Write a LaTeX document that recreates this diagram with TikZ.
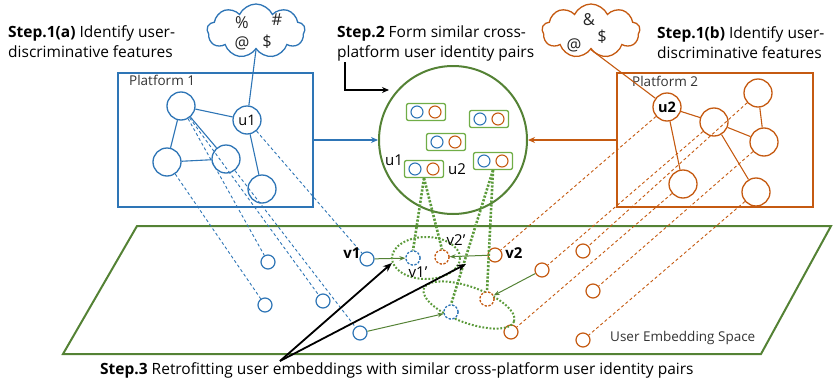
\documentclass[tikz,border=0pt]{standalone}
\usepackage{fontspec}
\setmainfont{Open Sans}
\usetikzlibrary{shapes.symbols,arrows.meta,calc}
\definecolor{pblue}{HTML}{2E75B6}
\definecolor{porange}{HTML}{C55A11}
\definecolor{pgreen}{HTML}{548235}
\definecolor{lgreen}{HTML}{70AD47}
\definecolor{dgreen}{HTML}{5B9A3A}

\tikzset{
  bignode/.style={circle, line width=1.3pt, minimum size=28pt, inner sep=0pt, fill=white, font=\fontsize{14.5}{14.5}\selectfont},
  bnode/.style={bignode, draw=pblue},
  onode/.style={bignode, draw=porange},
  emb/.style={circle, line width=1.2pt, minimum size=14pt, inner sep=0pt, fill=white},
  bemb/.style={emb, draw=pblue},
  oemb/.style={emb, draw=porange},
  bembd/.style={bemb, dash pattern=on 2.2pt off 1.6pt},
  oembd/.style={oemb, dash pattern=on 2.2pt off 1.6pt},
  pairbox/.style={draw=lgreen, line width=1.3pt, rounded corners=2pt, minimum width=39pt, minimum height=17pt, inner sep=0pt},
  mini/.style={circle, line width=1.1pt, minimum size=12pt, inner sep=0pt},
  bedge/.style={draw=pblue, line width=1.1pt},
  oedge/.style={draw=porange, line width=1.1pt},
  bproj/.style={draw=pblue, line width=0.9pt, dash pattern=on 3pt off 2.5pt},
  oproj/.style={draw=porange, line width=0.9pt, dash pattern=on 3pt off 2.5pt},
  pairlink/.style={draw=dgreen, line width=2.6pt, dash pattern=on 2.2pt off 1.6pt},
  pairring/.style={draw=dgreen, line width=2pt, dash pattern=on 1.8pt off 1.8pt},
  retrofit/.style={draw=pgreen, line width=1pt, -{Stealth[length=6pt,width=4.5pt]}},
  pointer/.style={draw=black, line width=1.8pt, -{Stealth[length=9pt,width=7pt]}},
  steptext/.style={anchor=west, align=left, inner sep=0pt, font=\fontsize{15.5}{20}\selectfont},
  cloudbox/.style={cloud, cloud puffs=9, cloud puff arc=130, aspect=1.9, line width=1.3pt, fill=white, inner sep=0pt},
  sym/.style={inner sep=0pt, font=\fontsize{16.5}{16.5}\selectfont, text=black!85},
  lbl/.style={inner sep=0pt, font=\fontsize{15}{15}\selectfont},
  plainlbl/.style={anchor=west, inner sep=0pt, font=\fontsize{13.5}{13.5}\selectfont, text=black!80},
}

\begin{document}
\begin{tikzpicture}[x=1pt, y=-1pt]
\useasboundingbox (0,0) rectangle (833,383);

% ---------- step captions ----------
\node[steptext] (s1a) at (8,42) {\textbf{Step.1(a)} Identify user-\\discriminative features};
\node[steptext] (s2) at (337,43) {\textbf{Step.2} Form similar cross-\\platform user identity pairs};
\node[steptext] (s1b) at (657,43) {\textbf{Step.1(b)} Identify user-\\discriminative features};
\node[steptext] (s3) at (100,370) {\textbf{Step.3} Retrofitting user embeddings with similar cross-platform user identity pairs};

% ---------- user embedding space ----------
\draw[draw=pgreen, line width=2pt] (137,226) -- (831,226) -- (761,354) -- (63,354) -- cycle;
\node[plainlbl] (ues) at (610,338) {User Embedding Space};

% ---------- platform boxes ----------
\node[draw=pblue, line width=2.2pt, minimum width=195pt, minimum height=134pt] (plat1) at (215.5,140) {};
\node[draw=porange, line width=2.2pt, minimum width=196pt, minimum height=134pt] (plat2) at (715,140) {};
\node[plainlbl] (p1lbl) at (129,80) {Platform 1};
\node[plainlbl] (p2lbl) at (632,81) {Platform 2};

% ---------- similar pairs hub ----------
\node[circle, draw=pgreen, line width=2pt, minimum size=148pt, inner sep=0pt] (hub) at (453,140) {};

\draw[pblue, line width=1.6pt, -{Stealth[length=7pt,width=6pt]}] (plat1.east) -- (hub.west);
\draw[porange, line width=1.6pt, -{Stealth[length=7pt,width=6pt]}] (plat2.west) -- (hub.east);

\coordinate (s2a) at (345,62);
\coordinate (s2b) at (345,90);
\coordinate (s2c) at (389,90);
\draw[black, line width=1.4pt, -{Stealth[length=7pt,width=6pt]}] (s2a) -- (s2b) -- (s2c);

% pair boxes with a blue and an orange member
\foreach \nm/\px/\py in {pa/426/112, pb/489/119, pc/446/142, pd/424/169, pe/493/161}{
  \node[pairbox] (\nm) at (\px,\py) {};
  \node[mini, draw=pblue] (\nm b) at ($(\nm)+(-9,0)$) {};
  \node[mini, draw=porange] (\nm o) at ($(\nm)+(9,0)$) {};
}
\node[lbl] (pu1) at (394,160) {u1};
\node[lbl] (pu2) at (457,169) {u2};

% ---------- platform 1 graph ----------
\node[bnode] (a1) at (181,106) {};
\node[bnode] (u1) at (247,120) {u1};
\node[bnode] (b1) at (167,162) {};
\node[bnode] (c1) at (226,159) {};
\node[bnode] (d1) at (262,189) {};
\draw[bedge] (a1) -- (u1);
\draw[bedge] (a1) -- (b1);
\draw[bedge] (a1) -- (c1);
\draw[bedge] (b1) -- (c1);
\draw[bedge] (u1) -- (d1);

% ---------- platform 2 graph ----------
\node[onode] (u2) at (667,107) {\textbf{u2}};
\node[onode] (e2) at (714,122) {};
\node[onode] (f2) at (758,93) {};
\node[onode] (g2) at (764,142) {};
\node[onode] (h2) at (683,184) {};
\node[onode] (i2) at (756,192) {};
\draw[oedge] (u2) -- (e2);
\draw[oedge] (u2) -- (h2);
\draw[oedge] (e2) -- (g2);
\draw[oedge] (g2) -- (f2);
\draw[oedge] (e2) -- (i2);

% ---------- feature clouds ----------
\node[cloudbox, draw=pblue, minimum width=98pt, minimum height=54pt] (cl1) at (256,31) {};
\node[sym] (c1s1) at (242,23) {\%};
\node[sym] (c1s2) at (277,20) {\#};
\node[sym] (c1s3) at (242,43) {@};
\node[sym] (c1s4) at (267,42) {\$};
\draw[bedge] (cl1.south) -- (u1);

\node[cloudbox, draw=porange, minimum width=98pt, minimum height=54pt] (cl2) at (591,31) {};
\node[sym] (c2s1) at (589,20) {\&};
\node[sym] (c2s2) at (574,45) {@};
\node[sym] (c2s3) at (602,37) {\$};
\draw[oedge] (cl2.south) -- (u2);

% ---------- embeddings ----------
\node[bemb] (eb1) at (268,262) {};
\node[bemb] (eb2) at (265,305) {};
\node[bemb] (eb3) at (323,301) {};
\node[bemb] (v1) at (367,259) {};
\node[bemb] (eb6) at (360,333) {};
\node[bembd] (v1p) at (413,258) {};
\node[bembd] (eb6p) at (451,312) {};

\node[oemb] (v2) at (495,255) {};
\node[oemb] (eo1) at (542,270) {};
\node[oemb] (eo2) at (583,251) {};
\node[oemb] (eo3) at (593,291) {};
\node[oemb] (eo4) at (511,332) {};
\node[oemb] (eo5) at (583,340) {};
\node[oembd] (v2p) at (442,257) {};
\node[oembd] (eo1p) at (487,299) {};

% projections from the platforms into the embedding space
\draw[bproj] (a1) -- (eb1);
\draw[bproj] (a1) -- (eb3);
\draw[bproj] (b1) -- (eb2);
\draw[bproj] (c1) -- (eb6);
\draw[bproj] (u1) -- (v1);
\draw[oproj] (u2) -- (v2);
\draw[oproj] (e2) -- (eo1);
\draw[oproj] (f2) -- (eo2);
\draw[oproj] (g2) -- (eo3);
\draw[oproj] (h2) -- (eo4);
\draw[oproj] (i2) -- (eo5);

% retrofitting moves
\draw[retrofit] (v1) -- (v1p);
\draw[retrofit] (v2) -- (v2p);
\draw[retrofit] (eb6) -- (eb6p);
\draw[retrofit] (eo1) -- (eo1p);

% pair rings and links to the pair boxes
\draw[pairring] (426,258) ellipse [x radius=34, y radius=21];
\draw[pairring, rotate around={-20:(469,305)}] (469,305) ellipse [x radius=48, y radius=18];
\draw[pairlink] (pd.south) -- (v1p.north);
\draw[pairlink] (pd.south) -- (v2p.north);
\draw[pairlink] (pe.south) -- (eb6p.north);
\draw[pairlink] (pe.south) -- (eo1p.north);

% redraw dashed embeddings above the links
\node[bembd] at (v1p) {};
\node[bembd] at (eb6p) {};
\node[oembd] at (v2p) {};
\node[oembd] at (eo1p) {};

\node[lbl] (lv1) at (352,253) {\textbf{v1}};
\node[lbl] (lv2) at (514,253) {\textbf{v2}};
\node[lbl] (lv1p) at (418,272) {v1'};
\node[lbl] (lv2p) at (456,240) {v2'};

% step 3 pointers
\coordinate (s3o) at (280,361);
\coordinate (s3t1) at (392,263);
\coordinate (s3t2) at (466,264);
\draw[pointer] (s3o) -- (s3t1);
\draw[pointer] (s3o) -- (s3t2);
\end{tikzpicture}
\end{document}
